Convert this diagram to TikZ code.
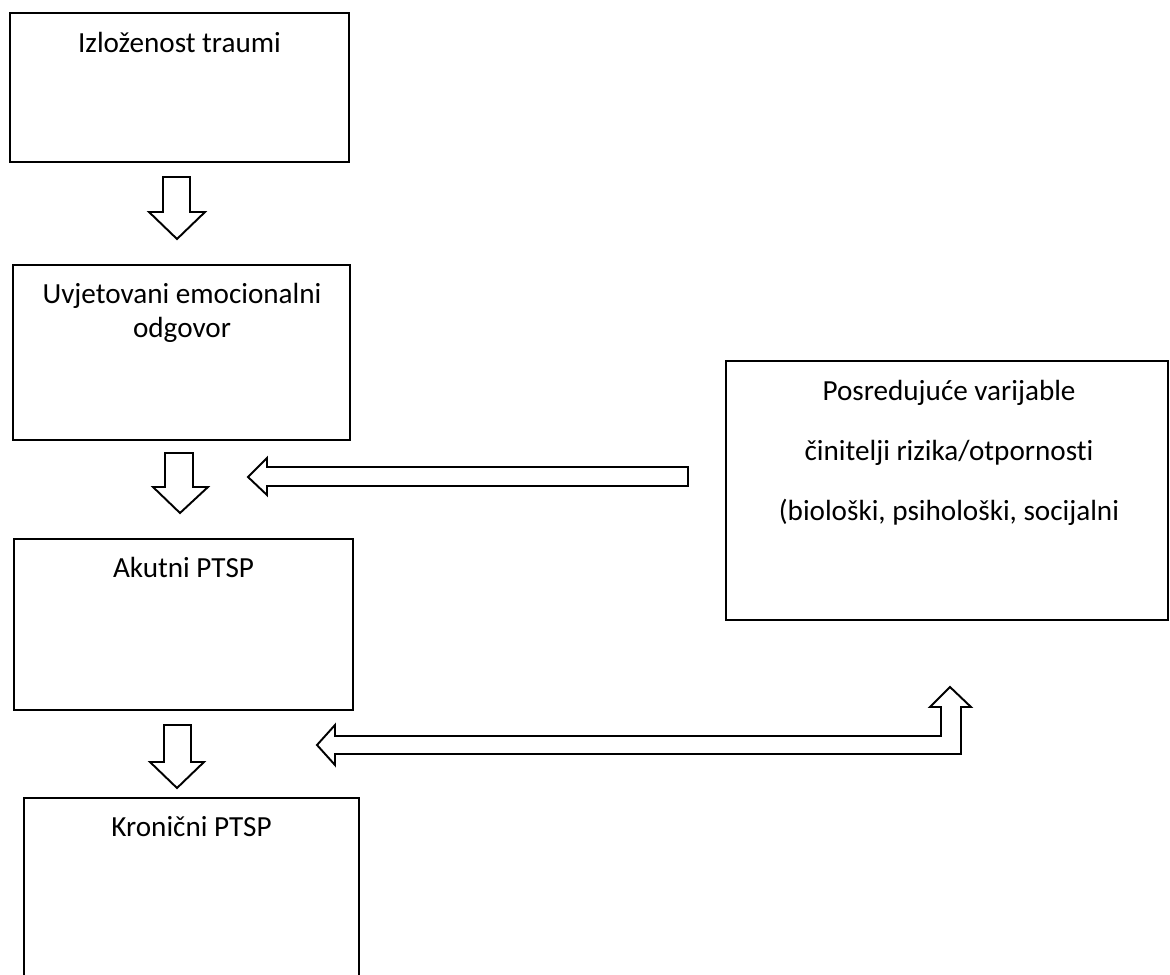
\documentclass[tikz,border=0pt]{standalone}
\usepackage{fontspec}
\setmainfont{Carlito}[Ligatures=CommonOff]

\begin{document}
\begin{tikzpicture}[x=0.02cm, y=-0.02cm,
  box/.style={draw, line width=1.3pt},
  lbl/.style={anchor=base, inner sep=0pt, font=\fontsize{16.6}{19}\selectfont},
  blockarrow/.style={draw, fill=white, line width=1.1pt, line join=miter}]
\useasboundingbox (0,0) rectangle (1170,974);
\clip (0,0) rectangle (1170,974);

% boxes on the left
\draw[box] (10,13) rectangle (349,162);
\draw[box] (13,265) rectangle (350,440);
\draw[box] (14,539) rectangle (353,710);
\draw[box] (24,798) rectangle (359,990);

% box on the right
\draw[box] (726,361) rectangle (1168,620);

\node[lbl] (trauma) at (179.5,52) {Izloženost traumi};
\node[lbl] (odgovorA) at (182,303.5) {Uvjetovani emocionalni};
\node[lbl] (odgovorB) at (182,337.5) {odgovor};
\node[lbl] (akutni) at (183.5,577) {Akutni PTSP};
\node[lbl] (kronicni) at (191.5,836.5) {Kronični PTSP};
\node[lbl] (posrA) at (949,400) {Posredujuće varijable};
\node[lbl] (posrB) at (949,460) {činitelji rizika/otpornosti};
\node[lbl] (posrC) at (949,520) {(biološki, psihološki, socijalni};

% down arrows
\draw[blockarrow] (163,177) -- (190,177) -- (190,212) -- (205,212) -- (177,239)
  -- (149,212) -- (163,212) -- cycle;
\draw[blockarrow] (165,453) -- (193,453) -- (193,487) -- (208,487) -- (180,513)
  -- (153,487) -- (165,487) -- cycle;
\draw[blockarrow] (164,725) -- (191,725) -- (191,762) -- (204,762) -- (177,788)
  -- (150,762) -- (164,762) -- cycle;

% arrow from the right box
\draw[blockarrow] (688,467) -- (267,467) -- (267,458) -- (248,477) -- (267,495)
  -- (267,486) -- (688,486) -- cycle;

% two-way bent arrow
\draw[blockarrow] (317,745) -- (335,725) -- (335,736) -- (941,736) -- (941,707)
  -- (930,707) -- (950,687) -- (971,707) -- (961,707) -- (961,754)
  -- (335,754) -- (335,765) -- cycle;
\end{tikzpicture}
\end{document}
